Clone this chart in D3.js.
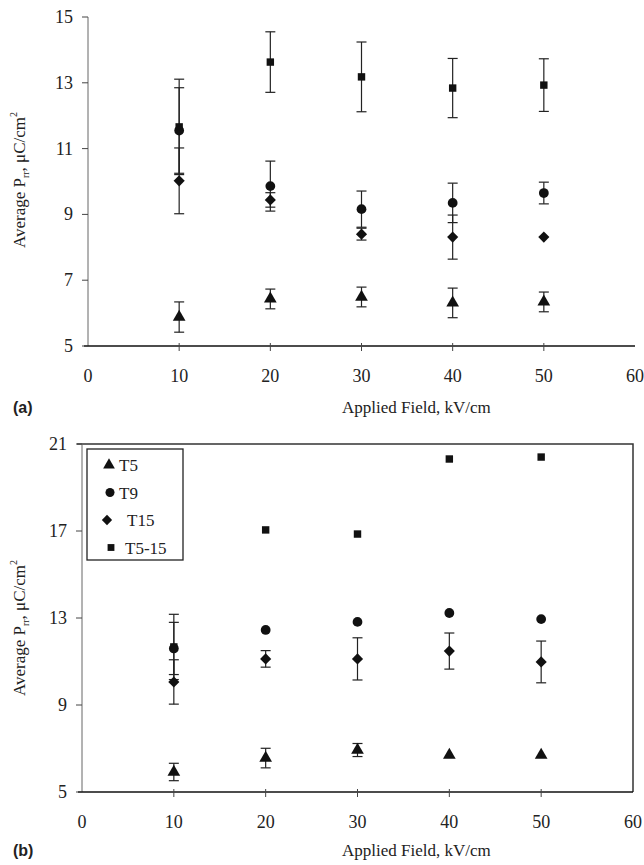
<!DOCTYPE html>
<html>
<head>
<meta charset="utf-8">
<script src="https://cdn.jsdelivr.net/npm/d3@7"></script>
<style>
  body { margin: 0; background: #fff; }
  text { font-family: "Liberation Serif", "DejaVu Serif", serif; fill: #222; }
  .panel { font-family: "Liberation Sans", Arial, sans-serif; font-weight: bold; }
</style>
</head>
<body>
<svg id="chart" width="644" height="865"></svg>
<script>
var FIELDS = [10, 20, 30, 40, 50];
var SERIES = ['T5', 'T9', 'T15', 'T5-15'];

// panel (a)
var T5_A = [5.88, 6.43, 6.49, 6.31, 6.34];
var T5_A_ERR = [0.46, 0.3, 0.3, 0.45, 0.3];
var T9_A = [11.55, 9.86, 9.16, 9.35, 9.65];
var T9_A_ERR = [1.3, 0.76, 0.55, 0.6, 0.33];
var T15_A = [10.02, 9.44, 8.4, 8.31, 8.31];
var T15_A_ERR = [1.0, 0.22, 0.18, 0.67, 0];
var T515_A = [11.66, 13.63, 13.18, 12.84, 12.93];
var T515_A_ERR = [1.45, 0.92, 1.06, 0.9, 0.8];

// panel (b)
var T5_B = [5.92, 6.56, 6.93, 6.7, 6.7];
var T5_B_ERR = [0.4, 0.45, 0.3, 0, 0];
var T9_B = [11.6, 12.45, 12.82, 13.23, 12.95];
var T9_B_ERR = [1.2, 0, 0, 0, 0];
var T15_B = [10.06, 11.12, 11.12, 11.48, 10.98];
var T15_B_ERR = [1.02, 0.38, 0.97, 0.83, 0.96];
var T515_B = [11.67, 17.05, 16.86, 20.31, 20.4];
var T515_B_ERR = [1.5, 0, 0, 0, 0];

var X_TICKS = [0, 10, 20, 30, 40, 50, 60];
var Y_TICKS_A = [5, 7, 9, 11, 13, 15];
var Y_TICKS_B = [5, 9, 13, 17, 21];

var SYMBOLS = {
  'T5': { type: d3.symbolTriangle, size: 70, rot: 0 },
  'T9': { type: d3.symbolCircle, size: 75, rot: 0 },
  'T15': { type: d3.symbolSquare, size: 62, rot: 45 },
  'T5-15': { type: d3.symbolSquare, size: 55, rot: 0 }
};

var svg = d3.select('#chart');

function drawPanel (opts) {
  var x = d3.scaleLinear().domain([0, 60]).range([opts.left, opts.right]);
  var y = d3.scaleLinear().domain(opts.yDomain).range([opts.bottom, opts.top]);
  var g = svg.append('g');

  // frame
  if (opts.boxed) {
    g.append('path')
      .attr('d', 'M' + (opts.left - 5) + ',' + opts.top + 'H' + opts.right + 'V' + opts.bottom)
      .attr('fill', 'none').attr('stroke', '#333').attr('stroke-width', 1.5);
  }
  g.append('line')
    .attr('x1', opts.left).attr('x2', opts.left)
    .attr('y1', opts.top).attr('y2', opts.bottom)
    .attr('stroke', '#666').attr('stroke-width', 1);
  g.append('line')
    .attr('x1', opts.left - 4).attr('x2', opts.right)
    .attr('y1', opts.bottom).attr('y2', opts.bottom)
    .attr('stroke', '#111').attr('stroke-width', 1.3);

  // y ticks
  opts.yTicks.forEach(function (t) {
    g.append('line')
      .attr('x1', opts.left - 6).attr('x2', opts.left)
      .attr('y1', y(t)).attr('y2', y(t))
      .attr('stroke', '#444');
    g.append('text')
      .attr('x', opts.left - 15).attr('y', y(t) + 6)
      .attr('text-anchor', 'end')
      .attr('font-size', 18)
      .text(t);
  });

  // x ticks
  X_TICKS.forEach(function (t) {
    if (t > 0 && t < 60) {
      g.append('line')
        .attr('x1', x(t)).attr('x2', x(t))
        .attr('y1', opts.bottom - 3).attr('y2', opts.bottom + 5)
        .attr('stroke', '#444');
    }
    g.append('text')
      .attr('x', x(t)).attr('y', opts.bottom + 36)
      .attr('text-anchor', 'middle')
      .attr('font-size', 18)
      .text(t);
  });

  // axis titles
  g.append('text')
    .attr('x', 342).attr('y', opts.bottom + opts.titleDy)
    .attr('font-size', 17)
    .text('Applied Field, kV/cm');
  g.append('text')
    .attr('class', 'panel')
    .attr('x', 13).attr('y', opts.bottom + opts.titleDy)
    .attr('font-size', 16)
    .text(opts.panel);

  var yl = g.append('text')
    .attr('transform', 'translate(25,' + opts.labelY + ') rotate(-90)')
    .attr('text-anchor', 'middle')
    .attr('font-size', 17);
  yl.append('tspan').text('Average P');
  yl.append('tspan').attr('font-size', 10).attr('dy', 4).text('rr');
  yl.append('tspan').attr('dy', -4).text(', \u03bcC/cm');
  yl.append('tspan').attr('font-size', 10).attr('dy', -8).text('2');

  // error bars then markers
  opts.series.forEach(function (s) {
    FIELDS.forEach(function (f, i) {
      var v = s.values[i];
      var e = s.errors[i];
      if (!e) return;
      var cx = x(f);
      var eb = g.append('g').attr('stroke', '#222').attr('stroke-width', 1.2);
      eb.append('line').attr('x1', cx).attr('x2', cx).attr('y1', y(v - e)).attr('y2', y(v + e));
      eb.append('line').attr('x1', cx - 5).attr('x2', cx + 5).attr('y1', y(v - e)).attr('y2', y(v - e));
      eb.append('line').attr('x1', cx - 5).attr('x2', cx + 5).attr('y1', y(v + e)).attr('y2', y(v + e));
    });
  });
  opts.series.forEach(function (s) {
    var sym = SYMBOLS[s.name];
    g.selectAll(null)
      .data(FIELDS)
      .enter().append('path')
      .attr('transform', function (d, i) {
        return 'translate(' + x(d) + ',' + y(s.values[i]) + ') rotate(' + sym.rot + ')';
      })
      .attr('d', d3.symbol().type(sym.type).size(sym.size))
      .attr('fill', '#111');
  });

  return { x: x, y: y, g: g };
}

drawPanel({
  left: 88, right: 635, top: 17, bottom: 346,
  yDomain: [5, 15], yTicks: Y_TICKS_A, boxed: false,
  panel: '(a)', labelY: 180, titleDy: 67,
  series: [
    { name: 'T5', values: T5_A, errors: T5_A_ERR },
    { name: 'T9', values: T9_A, errors: T9_A_ERR },
    { name: 'T15', values: T15_A, errors: T15_A_ERR },
    { name: 'T5-15', values: T515_A, errors: T515_A_ERR }
  ]
});

drawPanel({
  left: 82, right: 633, top: 444, bottom: 792,
  yDomain: [5, 21], yTicks: Y_TICKS_B, boxed: true,
  panel: '(b)', labelY: 628, titleDy: 64,
  series: [
    { name: 'T5', values: T5_B, errors: T5_B_ERR },
    { name: 'T9', values: T9_B, errors: T9_B_ERR },
    { name: 'T15', values: T15_B, errors: T15_B_ERR },
    { name: 'T5-15', values: T515_B, errors: T515_B_ERR }
  ]
});

// legend for panel (b)
var legend = svg.append('g');
legend.append('rect')
  .attr('x', 87).attr('y', 449).attr('width', 96).attr('height', 111)
  .attr('fill', '#fff').attr('stroke', '#222').attr('stroke-width', 1.3);
var LEGEND_TEXT_X = { 'T5': 119, 'T9': 119, 'T15': 127, 'T5-15': 125 };
var LEGEND_MARK_X = { 'T5': 109, 'T9': 110, 'T15': 107, 'T5-15': 111 };
SERIES.forEach(function (name, i) {
  var ly = 465 + i * 27.5;
  var sym = SYMBOLS[name];
  legend.append('path')
    .attr('transform', 'translate(' + LEGEND_MARK_X[name] + ',' + ly + ') rotate(' + sym.rot + ')')
    .attr('d', d3.symbol().type(sym.type).size(sym.size * 0.85))
    .attr('fill', '#111');
  legend.append('text')
    .attr('x', LEGEND_TEXT_X[name]).attr('y', ly + 6)
    .attr('font-size', 17)
    .text(name);
});
</script>
</body>
</html>
